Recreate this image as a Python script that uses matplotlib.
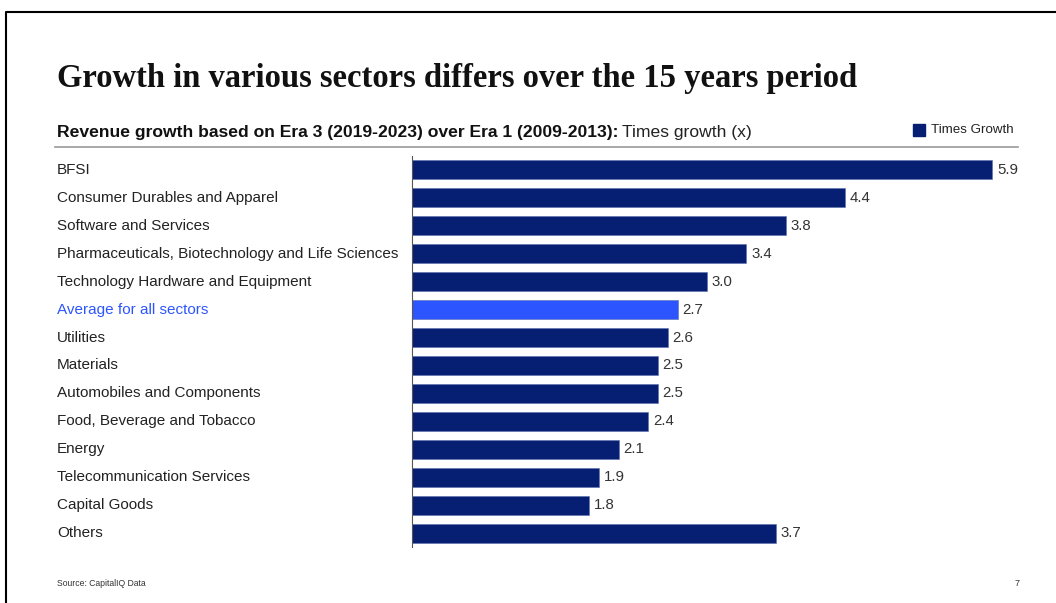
import matplotlib.pyplot as plt
from matplotlib.transforms import blended_transform_factory
from matplotlib.lines import Line2D
from matplotlib.patches import Rectangle

sectors = ['BFSI', 'Consumer Durables and Apparel', 'Software and Services',
           'Pharmaceuticals, Biotechnology and Life Sciences',
           'Technology Hardware and Equipment', 'Average for all sectors',
           'Utilities', 'Materials', 'Automobiles and Components',
           'Food, Beverage and Tobacco', 'Energy', 'Telecommunication Services',
           'Capital Goods', 'Others']
growth = [5.9, 4.4, 3.8, 3.4, 3.0, 2.7, 2.6, 2.5, 2.5, 2.4, 2.1, 1.9, 1.8, 3.7]
highlight = 'Average for all sectors'

navy = '#061f73'
bright = '#2d55ff'
W, H = 1056, 603

plt.rcParams['font.family'] = ['Liberation Sans', 'DejaVu Sans']

fig = plt.figure(figsize=(W / 100, H / 100), dpi=100)

def fx(px):
    return px / W

def fy(py):
    return 1 - py / H

# axes placed in pixel terms
ax = fig.add_axes([fx(412), fy(547), fx(1002) - fx(412), fy(156) - fy(547)])
ypos = list(range(len(sectors)))
colors = [bright if s == highlight else navy for s in sectors]
ax.barh(ypos, growth, height=0.68, color=colors, edgecolor='#5a6fb0', linewidth=0.4)
ax.set_xlim(0, 6.0)
ax.set_ylim(len(sectors) - 0.5, -0.5)
ax.set_xticks([])
ax.set_yticks([])
for s in ['top', 'right', 'bottom']:
    ax.spines[s].set_visible(False)
ax.spines['left'].set_color('#555555')
ax.spines['left'].set_linewidth(0.8)

lab_tr = blended_transform_factory(fig.transFigure, ax.transData)
for y, name, v in zip(ypos, sectors, growth):
    ax.text(fx(57), y, name, transform=lab_tr, ha='left', va='center',
            fontsize=11, color=bright if name == highlight else '#222222')
    ax.annotate(f'{v:.1f}', (v, y), xytext=(3.5, 0), textcoords='offset points',
                ha='left', va='center', fontsize=10.8, color='#333333')

# title and subtitle
fig.text(fx(57), fy(78), 'Growth in various sectors differs over the 15 years period',
         fontsize=23.5, fontweight='bold', family='Liberation Serif', va='center',
         color='#111111')
t = fig.text(fx(57), fy(132), 'Revenue growth based on Era 3 (2019-2023) over Era 1 (2009-2013):',
             fontsize=12.6, fontweight='bold', va='center', color='#111111')
fig.canvas.draw()
bb = t.get_window_extent()
fig.text(bb.x1 / W + fx(4), fy(132), 'Times growth (x)', fontsize=12.6, va='center',
         color='#222222')

# legend
fig.patches.append(Rectangle((fx(913), fy(136)), fx(12), fy(124) - fy(136),
                             transform=fig.transFigure, color=navy, figure=fig))
fig.text(fx(931), fy(130), 'Times Growth', fontsize=9.6, va='center', color='#222222')

# separator line below subtitle
fig.lines.append(Line2D([fx(55), fx(1018)], [fy(147), fy(147)], transform=fig.transFigure,
                        color='#999999', linewidth=1.2))

# page frame
fig.lines.append(Line2D([fx(6), fx(6), fx(1056)], [fy(603), fy(12), fy(12)],
                        transform=fig.transFigure, color='black', linewidth=1.5))

fig.text(fx(57), fy(583), 'Source: CapitalIQ Data', fontsize=6.2, va='center', color='#333333')
fig.text(fx(1015), fy(583), '7', fontsize=6.5, va='center', color='#333333')

fig.savefig('out.png', dpi=100)
